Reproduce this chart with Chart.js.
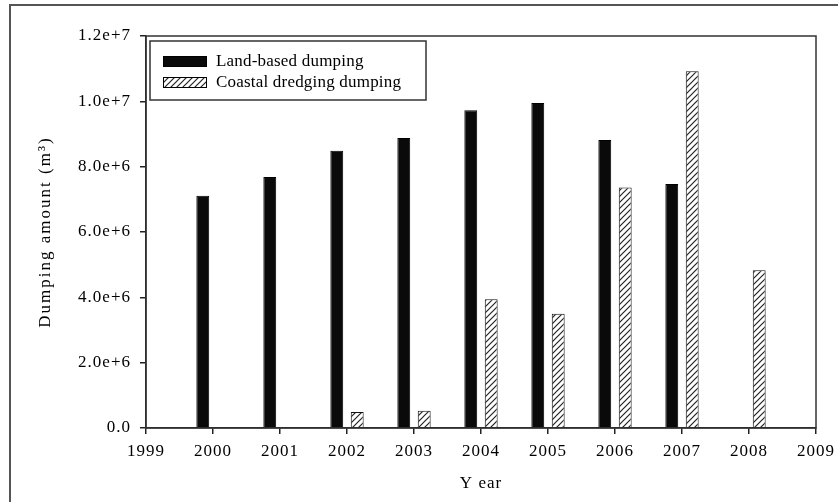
<!DOCTYPE html>
<html><head><meta charset="utf-8">
<script src="https://cdn.jsdelivr.net/npm/chart.js@4.4.1/dist/chart.umd.min.js"></script>
<style>html,body{margin:0;padding:0;background:#fff;}</style>
</head><body>
<canvas id="c" width="838" height="502"></canvas>
<script>
// ---- data ----
const years = ['1999','2000','2001','2002','2003','2004','2005','2006','2007','2008','2009'];
const landBased = [null, 7.11e6, 7.68e6, 8.49e6, 8.88e6, 9.73e6, 9.95e6, 8.82e6, 7.47e6, null, null];
const coastalDredging = [null, null, null, 0.49e6, 0.53e6, 3.94e6, 3.50e6, 7.36e6, 10.92e6, 4.83e6, null];
const seriesNames = ['Land-based dumping', 'Coastal dredging dumping'];
const yTicks = [0, 2e6, 4e6, 6e6, 8e6, 1e7, 1.2e7];

const FONT = 'Liberation Serif';
const INK = '#000';

function hatchPattern(){
  const s = 6;
  const c = document.createElement('canvas'); c.width = s; c.height = s;
  const x = c.getContext('2d');
  x.fillStyle = '#fff'; x.fillRect(0,0,s,s);
  x.strokeStyle = '#222'; x.lineWidth = 1.2;
  x.beginPath();
  x.moveTo(-1, s+1); x.lineTo(s+1, -1);
  x.moveTo(-1, 1); x.lineTo(1, -1);
  x.moveTo(s-1, s+1); x.lineTo(s+1, s-1);
  x.stroke();
  return x.createPattern(c, 'repeat');
}
const hatch = hatchPattern();

const spacingPlugin = {
  id: 'spacing',
  beforeUpdate(c){ c.ctx.letterSpacing = '1px'; },
  beforeDraw(c){ c.ctx.letterSpacing = '1px'; }
};

const framePlugin = {
  id: 'frame',
  beforeDraw(chart){
    const ctx = chart.ctx;
    ctx.save();
    ctx.fillStyle = '#fff';
    ctx.fillRect(0, 0, chart.width, chart.height);
    ctx.strokeStyle = '#555';
    ctx.lineWidth = 2;
    ctx.beginPath();
    ctx.moveTo(10, chart.height + 5);
    ctx.lineTo(10, 5);
    ctx.lineTo(chart.width + 5, 5);
    ctx.stroke();
    ctx.restore();
  },
  afterDraw(chart){
    const ctx = chart.ctx, a = chart.chartArea;
    ctx.save();
    ctx.strokeStyle = '#333';
    ctx.lineWidth = 1.5;
    ctx.strokeRect(a.left, a.top, a.right - a.left, a.bottom - a.top);
    // legend box
    const lx = a.left + 4, ly = a.top + 5, lw = 276, lh = 59;
    ctx.fillStyle = '#fff';
    ctx.fillRect(lx, ly, lw, lh);
    ctx.strokeRect(lx, ly, lw, lh);
    ctx.letterSpacing = '0.2px';
    ctx.font = '17px "' + FONT + '"';
    ctx.textBaseline = 'middle';
    ctx.textAlign = 'left';
    chart.data.datasets.forEach((ds, i) => {
      const rowY = ly + 15 + i * 21;
      ctx.fillStyle = ds.backgroundColor;
      ctx.fillRect(lx + 13, rowY, 44, 11);
      ctx.lineWidth = 1;
      ctx.strokeStyle = '#000';
      ctx.strokeRect(lx + 13.5, rowY + 0.5, 43, 10);
      ctx.fillStyle = INK;
      ctx.fillText(ds.label, lx + 66, rowY + 5.5);
    });
    ctx.restore();
  }
};

new Chart(document.getElementById('c'), {
  type: 'bar',
  data: {
    labels: years,
    datasets: [
      { label: seriesNames[0], data: landBased, backgroundColor: '#0a0a0a', borderColor: '#000', borderWidth: 1 },
      { label: seriesNames[1], data: coastalDredging, backgroundColor: hatch, borderColor: '#111', borderWidth: 1 }
    ]
  },
  options: {
    responsive: false,
    animation: false,
    devicePixelRatio: 1,
    categoryPercentage: 0.61,
    barPercentage: 0.63,
    layout: { padding: { top: 36, right: 22, left: 0, bottom: 0 } },
    plugins: { legend: { display: false }, tooltip: { enabled: false } },
    scales: {
      x: {
        type: 'category',
        offset: false,
        grid: { offset: false, drawOnChartArea: false, drawTicks: true, tickLength: 6, color: '#222', lineWidth: 1.5 },
        border: { color: '#222', width: 1.5 },
        ticks: { font: { family: FONT, size: 17 }, color: INK, padding: 7, maxRotation: 0, autoSkip: false },
        title: { display: true, text: 'Y ear', font: { family: FONT, size: 17 }, color: INK, padding: { top: 0, bottom: 8 } },
        afterFit(s){ s.height = 74; s.paddingLeft = 0; s.paddingRight = 0; }
      },
      y: {
        min: 0, max: 1.2e7,
        afterBuildTicks(s){ s.ticks = yTicks.map(v => ({ value: v })); },
        grid: { drawOnChartArea: false, drawTicks: true, tickLength: 6, color: '#222', lineWidth: 1.5 },
        border: { color: '#222', width: 1.5 },
        ticks: { font: { family: FONT, size: 17 }, color: INK, padding: 9,
          callback: v => v === 0 ? '0.0' : Number(v).toExponential(1) },
        title: { display: true, text: 'Dumping amount (m³)', font: { family: FONT, size: 17 }, color: INK, padding: { top: 35, bottom: 0 } },
        afterFit(s){
          s.width = 146;
          if (!s._spaced) {
            const orig = s.drawTitle;
            s.drawTitle = function(){ this.ctx.letterSpacing = '2px'; orig.call(this); this.ctx.letterSpacing = '1px'; };
            s._spaced = true;
          }
        }
      }
    }
  },
  plugins: [spacingPlugin, framePlugin]
});
</script>
</body></html>
